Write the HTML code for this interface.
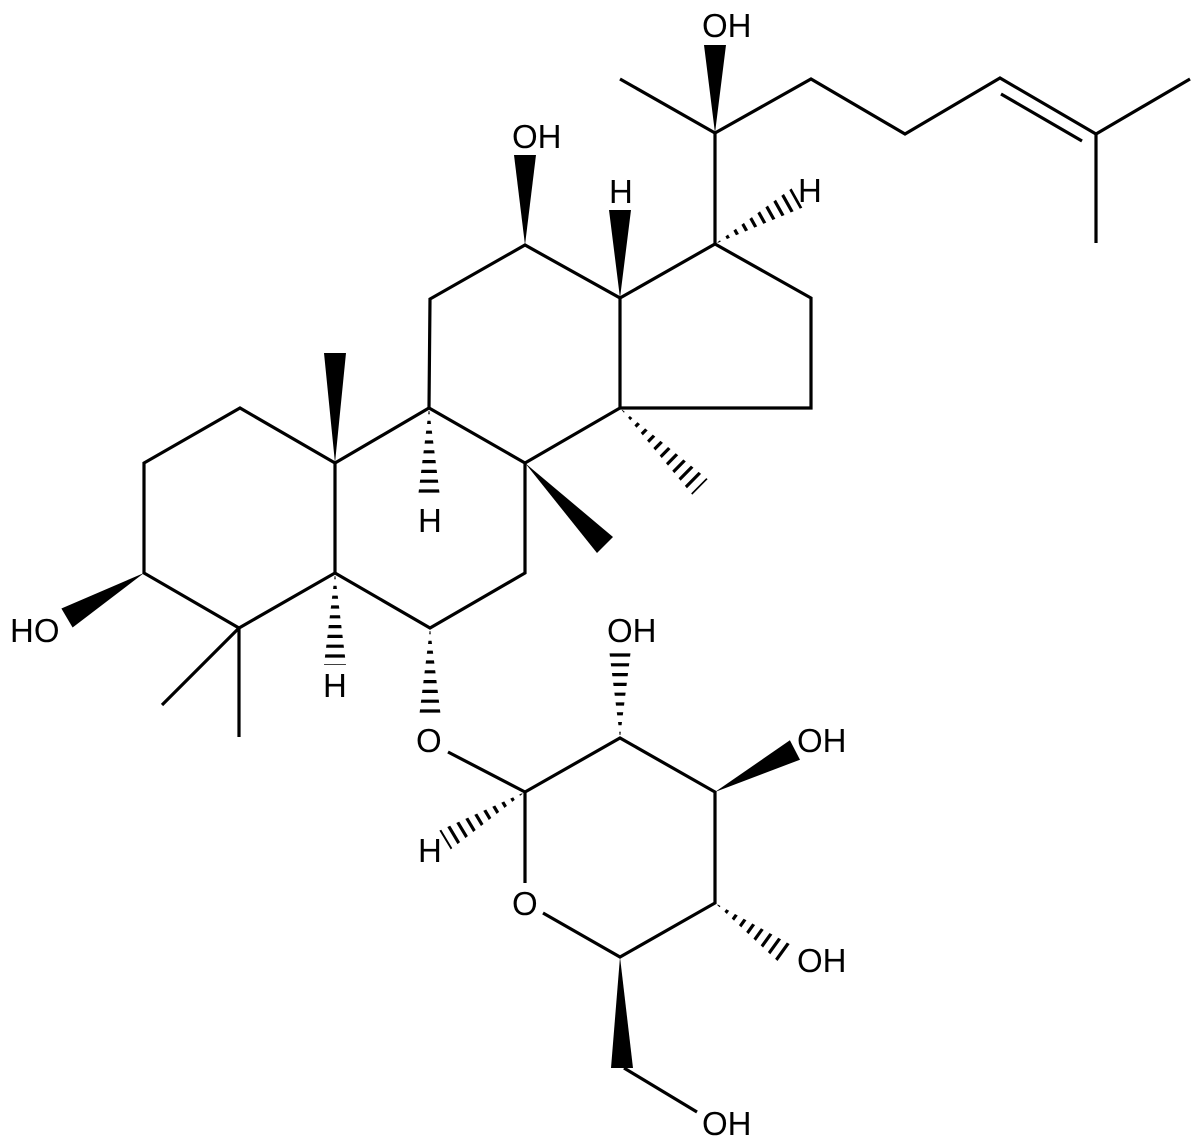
<!DOCTYPE html>
<html><head><meta charset="utf-8"><style>
html,body{margin:0;padding:0;background:#fff;}
svg{display:block;}
text{font-family:"Liberation Sans",Arial,sans-serif;font-size:33px;fill:#000;}
</style></head><body>
<svg width="1200" height="1145" viewBox="0 0 1200 1145" xmlns="http://www.w3.org/2000/svg">
<defs>
<clipPath id="h1"><polygon points="335,573 324,665 346,665"/></clipPath>
<clipPath id="h2"><polygon points="429,408 418,497 440,497"/></clipPath>
<clipPath id="h3"><polygon points="430,628 419,718 441,718"/></clipPath>
<clipPath id="h4"><polygon points="620,738 609,649 631,649"/></clipPath>
<clipPath id="h5"><polygon points="620,408 692.3,494.8 707.7,479.2"/></clipPath>
<clipPath id="h6"><polygon points="715,244 802.4,207.6 791.6,188.4"/></clipPath>
<clipPath id="h7"><polygon points="525,792 450.7,849.4 439.3,830.6"/></clipPath>
<clipPath id="h8"><polygon points="715,903 780.6,963.9 793.4,946.1"/></clipPath>
</defs>
<g stroke="#000" stroke-width="3.2" fill="none" stroke-linejoin="miter" stroke-linecap="butt">
<polyline points="335,463 240,408 144,463 144,573 239,628 335,573 335,463"/>
<polyline points="335,463 429,408 525,463 525,573 430,628 335,573"/>
<polyline points="429,408 430,299 525,245 620,298 620,408 525,463"/>
<polyline points="620,298 715,244 811,298 811,408 620,408"/>
<line x1="715" y1="244" x2="715" y2="133"/>
<line x1="715" y1="133" x2="620" y2="79"/>
<polyline points="715,133 811,79 905,134 1000,78 1096,134 1190,79"/>
<line x1="1096" y1="134" x2="1096" y2="243"/>
<line x1="1001" y1="94" x2="1082" y2="141"/>
<line x1="239" y1="628" x2="162" y2="705"/>
<line x1="239" y1="628" x2="239" y2="737"/>
<line x1="448" y1="752" x2="525" y2="792"/>
<polyline points="525,883 525,792 620,738 715,792 715,903 620,957 543,913"/>
<line x1="624" y1="1068" x2="697" y2="1112"/>
</g>
<g fill="#000">
<polygon points="144,573 72.6,627.5 61.4,608.5"/>
<polygon points="335,463 324,353 346,353"/>
<polygon points="525,463 597,553 613,537"/>
<polygon points="525,245 514,155 536,155"/>
<polygon points="620,298 609,210 631,210"/>
<polygon points="715,133 704,45 726,45"/>
<polygon points="715,792 800,759.7 789.9,740.3"/>
<polygon points="620,957 611,1068 633,1068"/>
</g>
<g stroke="#000" stroke-width="24" stroke-dasharray="3.2 6.6" fill="none">
<line x1="335" y1="576" x2="335" y2="665" clip-path="url(#h1)"/>
<line x1="429" y1="411" x2="429" y2="497" clip-path="url(#h2)"/>
<line x1="430" y1="631" x2="430" y2="718" clip-path="url(#h3)"/>
<line x1="620" y1="735" x2="620" y2="649" clip-path="url(#h4)"/>
<line x1="622" y1="410" x2="700" y2="487" clip-path="url(#h5)"/>
<line x1="717.6" y1="242.5" x2="797" y2="198" clip-path="url(#h6)"/>
<line x1="522.4" y1="793.6" x2="445" y2="840" clip-path="url(#h7)"/>
<line x1="717.4" y1="904.8" x2="787" y2="955" clip-path="url(#h8)"/>
</g>
<text x="10" y="642">HO</text>
<text x="323" y="697">H</text>
<text x="418" y="532">H</text>
<text x="416" y="752">O</text>
<text x="512" y="148">OH</text>
<text x="609" y="203">H</text>
<text x="798" y="202">H</text>
<text x="702" y="37">OH</text>
<text x="607" y="642">OH</text>
<text x="797" y="752">OH</text>
<text x="797" y="972">OH</text>
<text x="418" y="862">H</text>
<text x="512" y="915">O</text>
<text x="702" y="1135">OH</text>
</svg>
</body></html>
